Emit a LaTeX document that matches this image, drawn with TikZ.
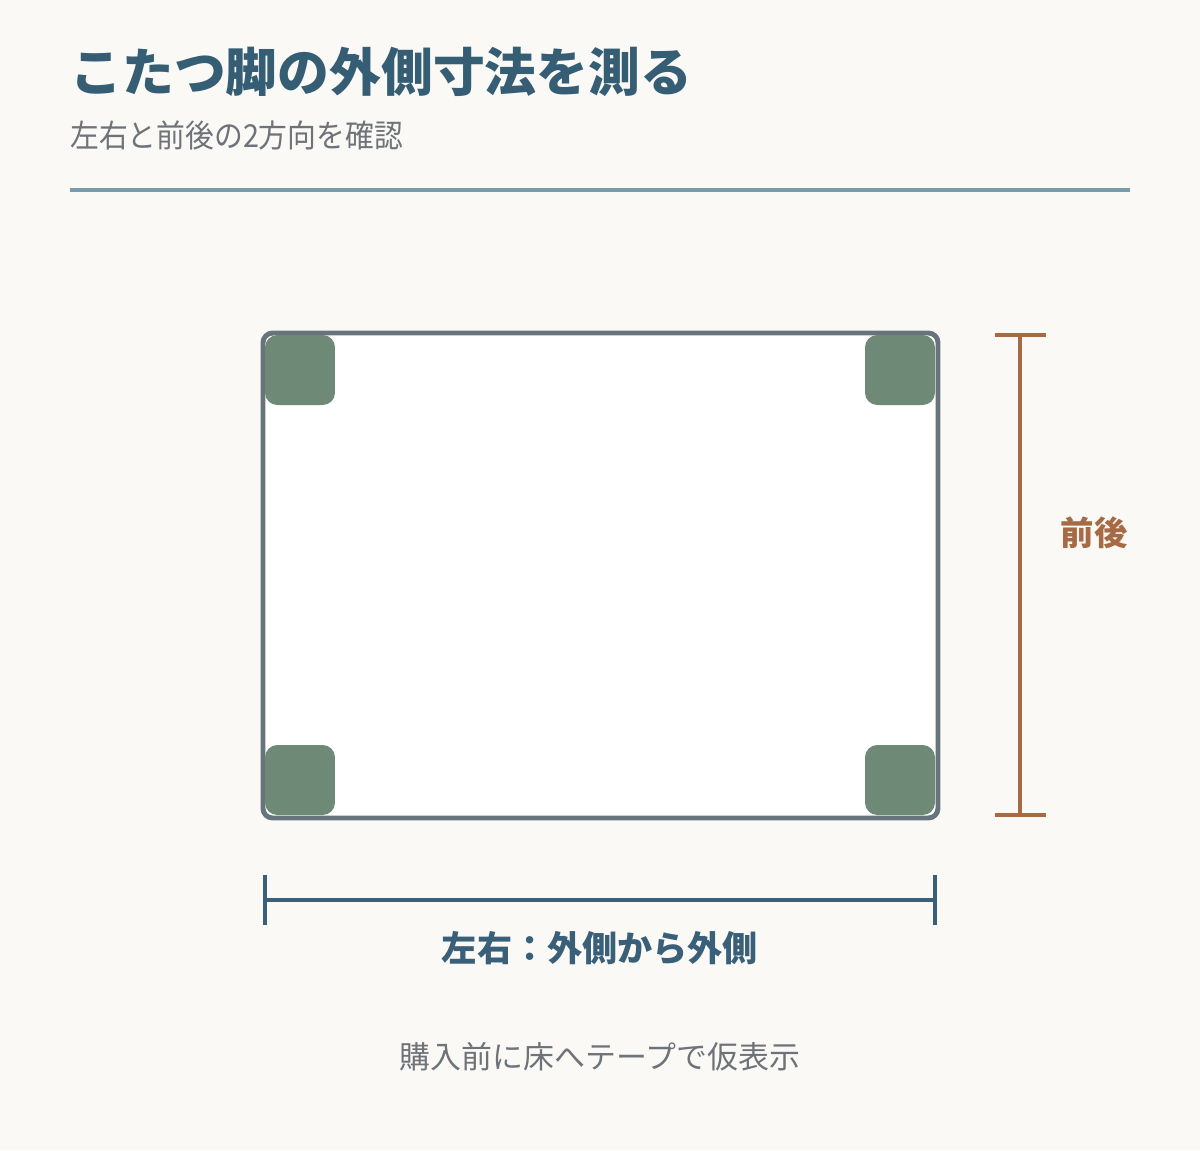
\documentclass[tikz,border=0pt]{standalone}
\usepackage{fontspec}
\usepackage{xcolor}
\newfontfamily\jp{Noto Sans CJK JP}
\newfontfamily\jpnarrow[FakeStretch=0.91]{Noto Sans CJK JP}

\definecolor{bgpaper}{HTML}{FAF9F5}
\definecolor{titleblue}{HTML}{355E75}
\definecolor{subgray}{HTML}{6E7379}
\definecolor{rulegray}{HTML}{7A9BAA}
\definecolor{frameslate}{HTML}{68747C}
\definecolor{leggreen}{HTML}{6E8A77}
\definecolor{depthbrown}{HTML}{A66A45}
\definecolor{widthblue}{HTML}{3A5F78}

\tikzset{
  leg/.style={fill=leggreen,rounded corners=7pt},
  dimline/.style={line width=2.6pt},
  txt/.style={inner sep=0pt,font=\jp}
}

\begin{document}
\begin{tikzpicture}[x=0.02cm,y=-0.02cm]
            \fill[bgpaper] (0,0) rectangle (1200,1150);
            \useasboundingbox (0,0) rectangle (1200,1150);
            % heading
            \node (title) at (70,72) [txt,anchor=west,text=titleblue,font=\jp\bfseries\fontsize{29.5pt}{34pt}\selectfont] {こたつ脚の外側寸法を測る};
            \node (sub) at (70,135) [txt,anchor=west,text=subgray,font=\jpnarrow\fontsize{18pt}{22pt}\selectfont] {左右と前後の2方向を確認};
            \draw[rulegray,line width=2.3pt] (70,190) -- (1130,190);
            % table top and legs
            \draw[frameslate,fill=white,line width=2.8pt,rounded corners=5.5pt] (263,333) rectangle (938,818);
            \node (lfl) at (300,370) [leg,minimum size=1.4cm] {};
            \node (rfl) at (900,370) [leg,minimum size=1.4cm] {};
            \node (lbl) at (300,780) [leg,minimum size=1.4cm] {};
            \node (rbl) at (900,780) [leg,minimum size=1.4cm] {};
            % depth
            \coordinate (dtop) at (1020,335);
            \coordinate (dbot) at (1020,815);
            \draw[dimline,depthbrown] (dtop) -- (dbot) (995,335) -- (1046,335) (995,815) -- (1046,815);
            \node (depth) at (1094,533) [txt,text=depthbrown,font=\jp\bfseries\fontsize{19pt}{23pt}\selectfont] {前後};
            % width
            \coordinate (wl) at (265,900);
            \coordinate (wr) at (935,900);
            \draw[dimline,widthblue] (wl) -- (wr) (265,875) -- (265,925) (935,875) -- (935,925);
            \node (width) at (600,948) [txt,text=widthblue,font=\jp\bfseries\fontsize{20pt}{24pt}\selectfont] {左右：外側から外側};
            \node (note) at (600,1057) [txt,text=subgray,font=\jp\fontsize{17.6pt}{21pt}\selectfont] {購入前に床へテープで仮表示};
        \end{tikzpicture}
\end{document}
